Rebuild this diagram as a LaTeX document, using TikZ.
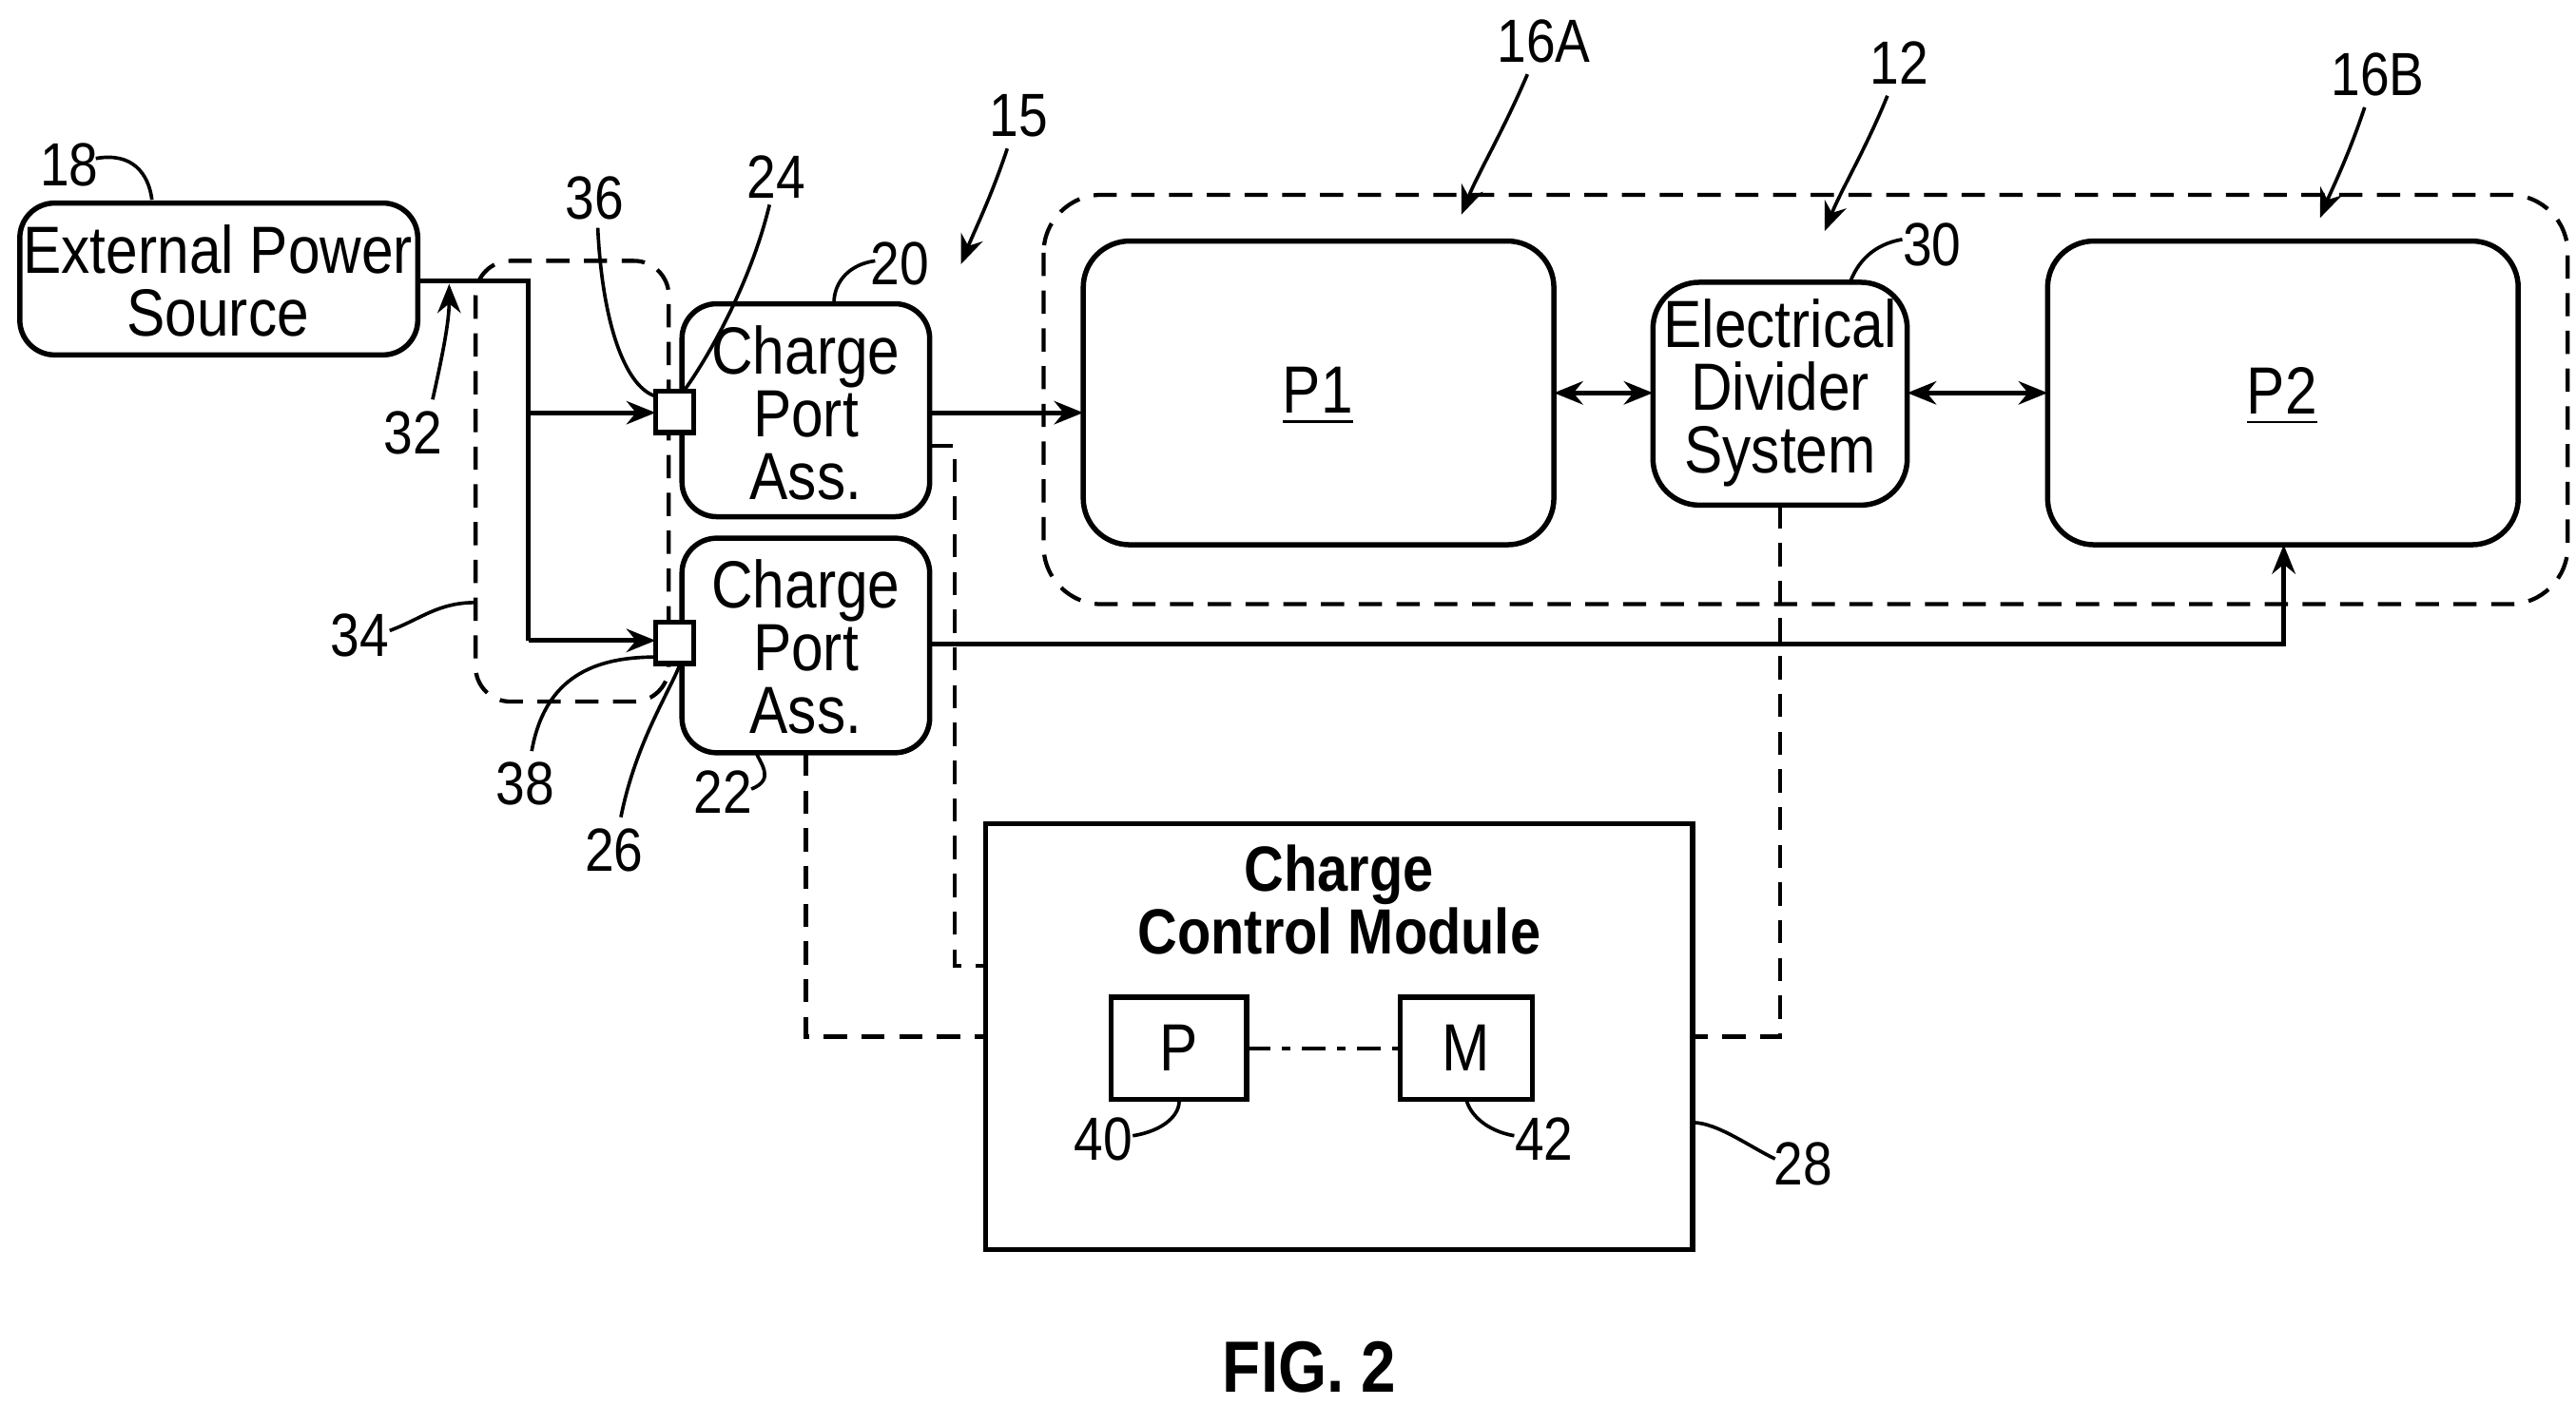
\documentclass[tikz,border=0pt]{standalone}
\usepackage{fontspec}
\setmainfont[FakeStretch=0.86]{Liberation Sans}
\usetikzlibrary{arrows.meta}
\begin{document}
\begin{tikzpicture}[x=0.01cm,y=-0.01cm,
  lab/.style={font=\fontsize{10.5}{12}\selectfont,inner sep=1pt},
  txt/.style={inner sep=0pt,align=center,font=\fontsize{11.5}{10.8}\selectfont},
  ln/.style={line width=0.8pt},
  bx/.style={line width=0.9pt},
  dsh/.style={line width=0.7pt,dash pattern=on 4pt off 2.5pt},
  arr/.style={ln,-{Stealth[length=5pt,width=4pt]}},
  darr/.style={ln,{Stealth[length=5pt,width=4pt]}-{Stealth[length=5pt,width=4pt]}},
  ldr/.style={line width=0.6pt}]
\useasboundingbox (0,0) rectangle (1560,851);
% boxes
\draw[bx,rounded corners=6pt] (12,123) rectangle (253,215);
\node[txt] (epst) at (132,170) {External Power\\Source};
\draw[dsh,rounded corners=6pt] (288,158) rectangle (405,425);
\draw[bx,rounded corners=6pt] (413,184) rectangle (563,313);
\node[txt] (cp1) at (488,250) {Charge\\Port\\Ass.};
\draw[bx,rounded corners=6pt] (413,326) rectangle (563,456);
\node[txt] (cp2) at (488,392) {Charge\\Port\\Ass.};
\draw[bx,fill=white] (397,237) rectangle (420,262);
\draw[bx,fill=white] (397,377) rectangle (420,402);
\draw[dsh,rounded corners=10pt] (632,118) rectangle (1555,366);
\draw[bx,rounded corners=8pt] (656,146) rectangle (941,330);
\node[txt] (p1) at (798,240) {\underline{P1}};
\draw[bx,rounded corners=8pt] (1001,171) rectangle (1155,306);
\node[txt] (eds) at (1078,238) {Electrical\\Divider\\System};
\draw[bx,rounded corners=8pt] (1240,146) rectangle (1525,330);
\node[txt] (p2) at (1382,240) {\underline{P2}};
\draw[bx] (597,499) rectangle (1025,757);
\node[txt,font=\bfseries\fontsize{11}{10.8}\selectfont] (ccm) at (811,545) {Charge\\Control Module};
\draw[bx] (673,604) rectangle (755,666);
\node[txt] (pp) at (714,635) {P};
\draw[bx] (848,604) rectangle (928,666);
\node[txt] (mm) at (888,635) {M};
\draw[ldr,dash pattern=on 4pt off 2pt on 1.5pt off 2pt] (755,635) -- (848,635);
% power lines
\draw[ln] (253,170) -- (320,170) -- (320,388);
\draw[arr] (320,250) -- (397,250);
\draw[arr] (320,388) -- (397,388);
\draw[arr] (563,250) -- (656,250);
\draw[darr] (941,238) -- (1001,238);
\draw[darr] (1155,238) -- (1240,238);
\draw[arr] (563,390) -- (1383,390) -- (1383,330);
% dashed signal lines
\draw[dsh] (563,270) -- (578,270) -- (578,585) -- (597,585);
\draw[dsh] (488,456) -- (488,628) -- (597,628);
\draw[dsh] (1078,306) -- (1078,628) -- (1025,628);
% labels
\node[lab] (l18) at (42,100) {18};
\draw[ldr] (58,96) .. controls (80,92) and (90,105) .. (92,121);
\node[lab] (l32) at (250,262) {32};
\draw[arr,line width=0.6pt] (262,242) .. controls (268,215) and (272,195) .. (272,172);
\node[lab] (l34) at (218,385) {34};
\draw[ldr] (236,382) .. controls (255,375) and (265,365) .. (288,365);
\node[lab] (l36) at (360,120) {36};
\draw[ldr] (362,138) .. controls (365,200) and (380,235) .. (397,240);
\node[lab] (l24) at (470,107) {24};
\draw[ldr] (466,124) .. controls (455,170) and (430,215) .. (414,237);
\node[lab] (l20) at (545,160) {20};
\draw[ldr] (530,158) .. controls (515,160) and (505,170) .. (505,184);
\node[lab] (l15) at (617,70) {15};
\draw[arr,line width=0.6pt] (610,90) .. controls (600,120) and (590,140) .. (582,160);
\node[lab] (l38) at (318,475) {38};
\draw[ldr] (322,455) .. controls (330,410) and (360,398) .. (397,398);
\node[lab] (l26) at (372,515) {26};
\draw[ldr] (376,495) .. controls (385,450) and (405,420) .. (412,402);
\node[lab] (l22) at (438,480) {22};
\draw[ldr] (455,478) .. controls (470,472) and (460,462) .. (458,456);
\node[lab] (l16a) at (935,25) {16A};
\draw[arr,line width=0.6pt] (925,45) .. controls (910,80) and (895,105) .. (885,130);
\node[lab] (l12) at (1150,38) {12};
\draw[arr,line width=0.6pt] (1143,58) .. controls (1130,90) and (1115,115) .. (1105,140);
\node[lab] (l16b) at (1440,45) {16B};
\draw[arr,line width=0.6pt] (1432,65) .. controls (1422,95) and (1412,115) .. (1405,132);
\node[lab] (l30) at (1170,148) {30};
\draw[ldr] (1152,145) .. controls (1135,148) and (1125,158) .. (1120,172);
\node[lab] (l40) at (668,690) {40};
\draw[ldr] (686,688) .. controls (705,685) and (715,675) .. (714,666);
\node[lab] (l42) at (935,690) {42};
\draw[ldr] (917,688) .. controls (900,685) and (890,675) .. (888,666);
\node[lab] (l28) at (1092,705) {28};
\draw[ldr] (1075,702) .. controls (1060,695) and (1040,680) .. (1025,680);
\node[lab,font=\bfseries\fontsize{12.5}{14}\selectfont] (fig) at (793,828) {FIG. 2};
\end{tikzpicture}
\end{document}
